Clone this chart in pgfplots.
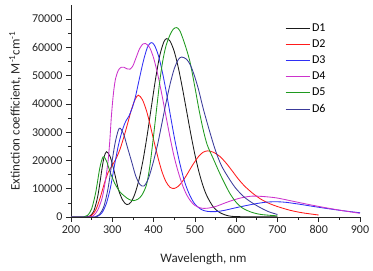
\documentclass[border=0pt]{standalone}
\usepackage{fontspec}
\setmainfont{Carlito}
\usepackage{pgfplots}
\pgfplotsset{compat=1.18}
\definecolor{cD1}{HTML}{1A1A1A}
\definecolor{cD2}{HTML}{FF1A1A}
\definecolor{cD3}{HTML}{2F2FF5}
\definecolor{cD4}{HTML}{CC33CC}
\definecolor{cD5}{HTML}{1F9A1F}
\definecolor{cD6}{HTML}{3A3A9A}
\begin{document}
\begin{tikzpicture}
\path[use as bounding box] (0,0) rectangle (373pt,271pt);
\begin{axis}[
 at={(71pt,54pt)}, anchor=south west,
 scale only axis, width=289pt, height=212pt,
 xmin=200, xmax=900, ymin=0, ymax=75000,
 axis x line*=bottom, axis y line*=left,
 xtick={200,300,...,900}, ytick={0,10000,...,70000},
 minor x tick num=1, minor y tick num=1,
 tick align=outside,
 major tick length=5pt, minor tick length=3pt,
 tick style={line width=0.7pt, black!85},
 scaled y ticks=false,
 /pgf/number format/1000 sep={},
 /pgf/number format/assume math mode=true,
 ticklabel style={font=\fontsize{12}{14}\selectfont, text=black!85},
 xlabel={Wavelength, nm},
 ylabel={Extinction coefficient, M\textsuperscript{-1}cm\textsuperscript{-1}},
 label style={font=\fontsize{13}{15}\selectfont, text=black!85},
 xlabel style={xshift=-12pt, yshift=-13pt},
 ylabel style={yshift=4pt},
 legend style={draw=none, fill=none, at={(0.73,0.93)}, anchor=north west, font=\fontsize{12}{14}\selectfont, row sep=2.8pt},
 legend cell align=left,
 legend image code/.code={\draw[#1] (0pt,0pt) -- (24pt,0pt);},
 every axis plot/.append style={line width=0.85pt},
 axis line style={line width=0.8pt, black!85},
]
\addplot[cD1, smooth] coordinates {(200,0)(235,0)(245,300)(255,2000)(265,7500)(275,17000)(280,21100)(286,23100)(295,21300)(305,15900)(315,9700)(325,6000)(335,4400)(345,5200)(355,8300)(365,13400)(375,20500)(385,29400)(395,39300)(405,49000)(415,57100)(425,62000)(432,63100)(440,62200)(450,58600)(460,52800)(470,45500)(480,37500)(490,29500)(500,22150)(510,15900)(520,10900)(530,7200)(545,3500)(560,1600)(580,450)(600,150)(650,50)(700,50)};
\addlegendentry{D1}
\addplot[cD2, smooth] coordinates {(200,0)(240,0)(250,600)(260,2500)(270,6500)(280,11500)(290,15800)(298,17800)(308,20300)(318,23700)(328,28300)(338,33500)(346,37800)(355,41500)(363,43100)(373,41500)(383,37500)(391,33000)(400,27400)(410,21400)(420,16200)(430,12500)(440,10500)(450,10100)(460,10900)(470,12600)(480,14800)(490,17300)(500,19600)(510,21600)(520,22900)(531,23400)(545,22900)(560,21500)(575,19200)(590,16400)(605,13500)(620,11000)(640,8400)(660,6300)(680,4800)(700,3700)(730,2400)(760,1500)(800,700)};
\addlegendentry{D2}
\addplot[cD3, smooth] coordinates {(200,0)(255,0)(265,300)(275,1500)(285,4500)(295,10000)(305,18000)(315,25500)(325,31000)(333,34000)(340,35600)(348,38500)(356,42500)(365,48500)(375,55000)(385,60000)(394,61700)(402,60800)(412,57000)(422,50800)(432,43200)(442,34900)(452,26900)(464,18700)(476,12100)(488,7600)(500,4600)(515,2700)(530,2000)(550,1900)(570,2300)(600,3300)(640,4500)(670,5200)(695,5400)(720,5200)(750,4600)(780,3900)(820,3000)(860,2200)(900,1500)};
\addlegendentry{D3}
\addplot[cD4, smooth] coordinates {(200,0)(245,0)(255,600)(265,2500)(275,6500)(280,10000)(285,14500)(290,20100)(294,27000)(298,36000)(303,44000)(308,49000)(315,52000)(322,53000)(328,53000)(336,52400)(343,52300)(350,53500)(358,56500)(366,59500)(374,61200)(380,61400)(390,60100)(400,56300)(410,50500)(420,43400)(430,35700)(440,28100)(450,21200)(460,15800)(470,11300)(480,7900)(490,5600)(500,4100)(515,3150)(530,3100)(550,3700)(570,4800)(590,5850)(610,6700)(630,7250)(645,7400)(670,7200)(700,6700)(740,5500)(780,4300)(820,3200)(860,2200)(900,1300)};
\addlegendentry{D4}
\addplot[cD5, smooth] coordinates {(200,0)(230,0)(240,550)(250,2900)(260,8800)(270,17500)(278,21300)(286,19800)(295,15800)(306,11900)(318,9000)(331,7200)(341,6200)(351,5800)(362,6300)(372,7800)(383,11500)(391,18000)(399,27500)(407,37800)(415,48000)(422,55000)(430,60500)(440,64500)(448,66500)(456,67000)(464,65800)(476,61000)(488,55000)(500,46000)(510,38000)(520,31000)(530,25500)(545,20500)(557,16500)(569,12800)(585,8300)(600,5200)(615,3200)(635,1800)(660,900)(700,400)};
\addlegendentry{D5}
\addplot[cD6, smooth] coordinates {(200,0)(255,0)(262,300)(270,1100)(280,3900)(290,10300)(300,20200)(308,27000)(317,31400)(327,29500)(337,24500)(347,19500)(357,14400)(367,11500)(377,11000)(388,13800)(400,19800)(410,25800)(420,33000)(430,40300)(440,47000)(450,52400)(460,55700)(468,56600)(480,55800)(490,53500)(500,49500)(510,44500)(520,38500)(535,30700)(550,23500)(565,18000)(585,13100)(600,10000)(620,7000)(641,4800)(660,3200)(680,1800)(700,900)};
\addlegendentry{D6}
\end{axis}
\end{tikzpicture}
\end{document}
